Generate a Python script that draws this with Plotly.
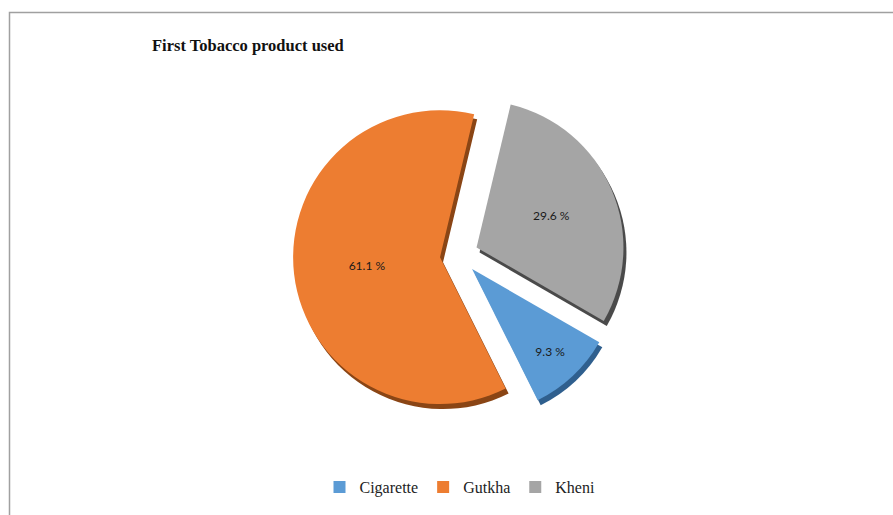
import plotly.graph_objects as go

categories = ["Cigarette", "Gutkha", "Kheni"]
values = [9.3, 61.1, 29.6]
colors = ["#5B9BD5", "#ED7D31", "#A5A5A5"]
shadow_colors = ["#2F5F8E", "#8A4515", "#4A4A4A"]
title_text = "First Tobacco product used"

W, H = 893, 515
cx, cy = 459, 255          # pie centre in pixels
half = 166                  # half of domain size in pixels
pull = 0.13
rotation = 120

def dom(cx_px, cy_px):
    return dict(x=[(cx_px - half) / W, (cx_px + half) / W],
                y=[(H - cy_px - half) / H, (H - cy_px + half) / H])

fig = go.Figure()

# shadow layer (3D-ish edge)
fig.add_trace(go.Pie(
    labels=categories, values=values, sort=False, direction="clockwise",
    rotation=rotation, pull=[pull] * 3, domain=dom(cx + 3, cy + 5),
    marker=dict(colors=shadow_colors, line=dict(width=0)),
    textinfo="none", hoverinfo="skip", showlegend=False,
))

fig.add_trace(go.Pie(
    labels=categories, values=values, sort=False, direction="clockwise",
    rotation=rotation, pull=[pull] * 3, domain=dom(cx, cy),
    marker=dict(colors=colors, line=dict(width=0)),
    texttemplate="%{value:.1f} %", textposition="inside",
    insidetextorientation="horizontal",
    textfont=dict(family="Lato, Liberation Sans, sans-serif", size=12, color="#1a1a1a"),
    showlegend=True,
))

fig.update_layout(
    width=W, height=H, autosize=False,
    margin=dict(l=0, r=0, t=0, b=0),
    paper_bgcolor="white", plot_bgcolor="white",
    title=dict(text="<b>" + title_text + "</b>", x=152 / W, xanchor="left",
               y=(H - 45) / H, yanchor="middle",
               font=dict(family="Liberation Serif, serif", size=16.5, color="#111111")),
    legend=dict(orientation="h", x=460 / W, xanchor="center",
                y=(H - 487) / H, yanchor="middle",
                font=dict(family="Liberation Serif, serif", size=16, color="#222222"),
                traceorder="normal"),
    shapes=[dict(type="rect", xref="paper", yref="paper",
                 x0=9.5 / W, x1=1.05, y0=-0.05, y1=(H - 12.5) / H,
                 line=dict(color="#A0A0A0", width=1.5))],
)

fig.write_html("out.html", config={"displayModeBar": False},
               post_script="document.body.style.margin='0px';document.body.style.overflow='hidden';")
